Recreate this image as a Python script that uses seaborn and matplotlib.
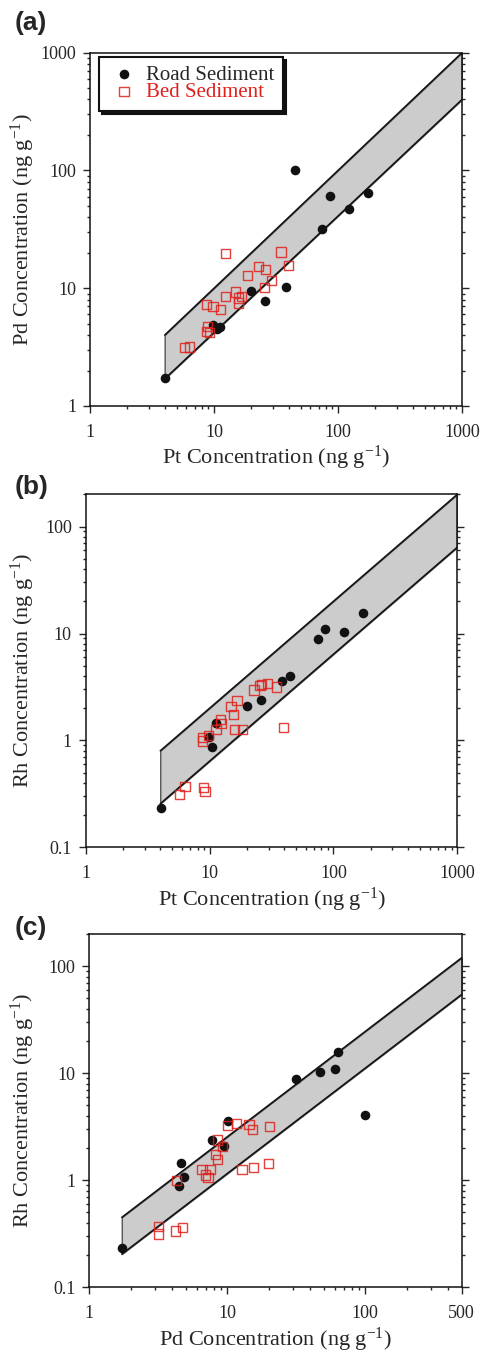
import matplotlib
matplotlib.use('Agg')
import matplotlib.pyplot as plt
import seaborn as sns
from matplotlib.ticker import LogLocator, NullFormatter

# Datos (ng/g)
road_pt = [4.05, 9.85, 10.5, 11.2, 20.0, 26.0, 38.3, 44.7, 74.9, 86.0, 123.0, 175.0]
road_pd = [1.72, 4.87, 4.50, 4.66, 9.5, 7.8, 10.2, 100.0, 31.6, 60.3, 47.4, 64.0]
road_rh = [0.235, 1.08, 0.876, 1.46, 2.08, 2.40, 3.56, 4.04, 8.8, 10.96, 10.3, 15.7]

bed_pt = [12.4, 34.7, 39.8, 22.9, 26.2, 18.5, 29.3, 25.6, 14.9, 12.3, 16.7,
          15.7, 15.8, 8.73, 9.82, 11.3, 8.92, 8.73, 9.2, 5.75, 6.33]
bed_pd = [19.8, 20.3, 15.5, 15.3, 14.4, 12.8, 11.7, 10.1, 9.28, 8.5, 8.5,
          8.27, 7.5, 7.25, 6.95, 6.56, 4.75, 4.27, 4.21, 3.16, 3.17]
bed_rh = [1.44, 3.16, 1.32, 2.96, 3.33, 1.27, 3.40, 3.27, 2.08, 1.57, 2.38,
          1.75, 1.27, 1.06, 1.12, 1.27, 0.36, 0.99, 0.335, 0.314, 0.369]

# Bandas (extremos izquierdo y derecho)
band_a_x = [4, 1000]
band_a_lo = [1.7, 400]
band_a_hi = [4, 1000]
band_b_x = [4, 1000]
band_b_lo = [0.256, 64]
band_b_hi = [0.8, 200]
band_c_x = [1.72, 500]
band_c_lo = [0.204, 54.5]
band_c_hi = [0.45, 120]

ticks_1000 = [1, 10, 100, 1000]
labels_1000 = ['1', '10', '100', '1000']
ticks_500 = [1, 10, 100, 500]
labels_500 = ['1', '10', '100', '500']
ticks_rh = [0.1, 1, 10, 100]
labels_rh = ['0.1', '1', '10', '100']

RED = '#e0201b'
SERIF = 'Liberation Serif'

sns.set_style('ticks')
plt.rcParams['font.family'] = [SERIF, 'DejaVu Serif']
plt.rcParams['mathtext.fontset'] = 'custom'
plt.rcParams['mathtext.rm'] = SERIF
plt.rcParams['mathtext.it'] = SERIF + ':italic'
plt.rcParams['axes.linewidth'] = 1.1

fig = plt.figure(figsize=(4.8, 13.56), dpi=100)


def panel(rect, xr, yr, xb, yb, bx, blo, bhi, xlim, ylim, xt, xtl, yt, ytl,
          xlabel, ylabel, ylab_x):
    ax = fig.add_axes(rect)
    ax.set_xscale('log')
    ax.set_yscale('log')
    ax.fill_between(bx, blo, bhi, facecolor='#cccccc', edgecolor='#555555',
                    linewidth=1.0, zorder=1)
    ax.plot(bx, blo, color='#111111', lw=1.1, zorder=2)
    ax.plot(bx, bhi, color='#111111', lw=1.1, zorder=2)
    sns.scatterplot(x=xr, y=yr, ax=ax, color='#111111', marker='o', s=48,
                    linewidth=0, zorder=3, label='Road Sediment', legend=False)
    sns.scatterplot(x=xb, y=yb, ax=ax, color=RED, marker='s', s=44,
                    facecolor='none', edgecolor=RED, linewidth=1.0, alpha=0.85,
                    zorder=4, label='Bed Sediment', legend=False)
    ax.set_xlim(*xlim)
    ax.set_ylim(*ylim)
    ax.set_xticks(xt, xtl)
    ax.set_yticks(yt, ytl)
    for axis in (ax.xaxis, ax.yaxis):
        axis.set_minor_locator(LogLocator(base=10, subs=range(2, 10), numticks=20))
        axis.set_minor_formatter(NullFormatter())
    ax.tick_params(which='both', direction='out', right=True, top=False,
                   labelsize=13, width=1.0)
    ax.tick_params(which='major', length=5)
    ax.tick_params(which='minor', length=2.5)
    ax.tick_params(axis='x', pad=8)
    ax.tick_params(axis='y', pad=5)
    for s in ax.spines.values():
        s.set_color('#111111')
    ax.set_xlabel(xlabel, fontsize=16)
    ax.set_ylabel(ylabel, fontsize=16)
    ax.xaxis.set_label_coords(0.5, -0.108)
    ax.yaxis.set_label_coords(ylab_x, 0.5)
    return ax


unit = r' (ng g$^{\mathregular{-1}}$)'

ax_a = panel([0.1875, 0.7006, 0.775, 0.2606], road_pt, road_pd, bed_pt, bed_pd,
             band_a_x, band_a_lo, band_a_hi, (1, 1000), (1, 1000),
             ticks_1000, labels_1000, ticks_1000, labels_1000,
             'Pt Concentration' + unit, 'Pd Concentration' + unit, -0.142)
ax_b = panel([0.1785, 0.3751, 0.774, 0.2603], road_pt, road_rh, bed_pt, bed_rh,
             band_b_x, band_b_lo, band_b_hi, (1, 1000), (0.1, 200),
             ticks_1000, labels_1000, ticks_rh, labels_rh,
             'Pt Concentration' + unit, 'Rh Concentration' + unit, -0.131)
ax_c = panel([0.186, 0.0507, 0.7758, 0.2605], road_pd, road_rh, bed_pd, bed_rh,
             band_c_x, band_c_lo, band_c_hi, (1, 500), (0.1, 200),
             ticks_500, labels_500, ticks_rh, labels_rh,
             'Pd Concentration' + unit, 'Rh Concentration' + unit, -0.140)

leg = ax_a.legend(loc='upper left', bbox_to_anchor=(0.024, 0.988),
                  borderaxespad=0, fontsize=15, frameon=True, fancybox=False,
                  edgecolor='#111111', framealpha=1, borderpad=0.4,
                  handlelength=1.6, handletextpad=0.25, labelspacing=-0.1,
                  shadow={'color': '#111111', 'alpha': 1, 'ox': 2.5, 'oy': -2.5})
leg.get_frame().set_linewidth(1.5)
leg.get_texts()[1].set_color(RED)

for lab, y in [('(a)', 0.983), ('(b)', 0.641), ('(c)', 0.3156)]:
    fig.text(0.031, y, lab, fontsize=19, fontweight='bold',
             family=['Liberation Sans', 'DejaVu Sans'], va='center', ha='left')

fig.savefig('out.png', dpi=100)
